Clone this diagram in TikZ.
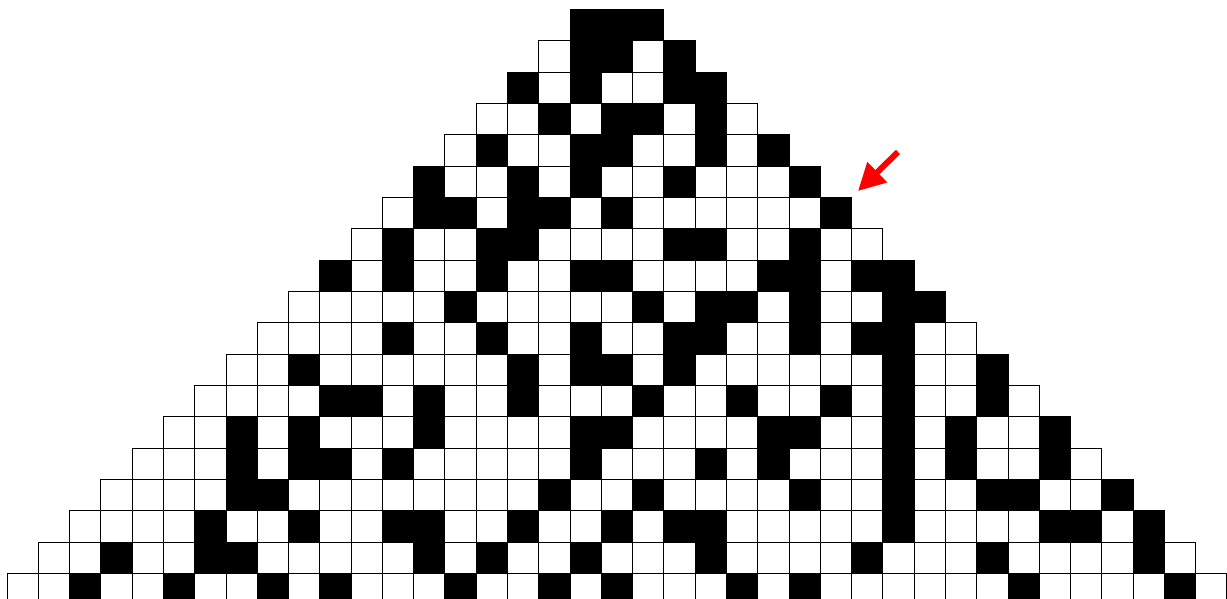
\documentclass[tikz,border=0pt]{standalone}
\usetikzlibrary{arrows.meta}
\begin{document}
\begin{tikzpicture}[x=1pt,y=-1pt,
  cellbox/.style={draw=black, line width=0.9pt},
  pointer/.style={draw=red, line width=6pt, -{Triangle[length=27pt,width=27pt]}}]
\clip (0,0) rectangle (1227,598);
\fill[white] (0,0) rectangle (1227,598);
\foreach \r/\bits in {
 0/{1,1,1},
 1/{0,1,1,0,1},
 2/{1,0,1,0,0,1,1},
 3/{0,0,1,0,1,1,0,1,0},
 4/{0,1,0,0,1,1,0,0,1,0,1},
 5/{1,0,0,1,0,1,0,0,1,0,0,0,1},
 6/{0,1,1,0,1,1,0,1,0,0,0,0,0,0,1},
 7/{0,1,0,0,1,1,0,0,0,0,1,1,0,0,1,0,0},
 8/{1,0,1,0,0,1,0,0,1,1,0,0,0,0,1,1,0,1,1},
 9/{0,0,0,0,0,1,0,0,0,0,0,1,0,1,1,0,1,0,0,1,1},
 10/{0,0,0,0,1,0,0,1,0,0,1,0,0,1,1,0,0,1,0,1,1,0,0},
 11/{0,0,1,0,0,0,0,0,0,1,0,1,1,0,1,0,0,0,0,0,0,1,0,0,1},
 12/{0,0,0,0,1,1,0,1,0,0,1,0,0,0,1,0,0,1,0,0,1,0,1,0,0,1,0},
 13/{0,0,1,0,1,0,0,0,1,0,0,0,0,1,1,0,0,0,0,1,1,0,0,1,0,1,0,0,1},
 14/{0,0,0,1,0,1,1,0,1,0,0,0,0,0,1,0,0,0,1,0,1,0,0,0,1,0,1,0,0,1,0},
 15/{0,0,0,0,1,1,0,0,0,0,0,0,0,0,1,0,0,1,0,0,0,0,1,0,0,1,0,0,1,1,0,0,1},
 16/{0,0,0,0,1,0,0,1,0,0,1,1,0,0,1,0,0,1,0,1,1,0,0,0,0,0,1,0,0,0,0,1,1,0,1},
 17/{0,0,1,0,0,1,1,0,0,0,0,0,1,0,1,0,0,1,0,0,0,1,0,0,0,0,1,0,0,0,1,0,0,0,0,1,0},
 18/{0,0,1,0,0,1,0,0,1,0,1,0,0,0,1,0,0,1,0,1,0,0,0,1,0,1,0,0,0,0,0,0,1,0,0,0,0,1,0}}{
  \foreach \b [count=\k from 0] in \bits {
    \pgfmathsetmacro\cx{7+31.28*(18-\r+\k)}
    \pgfmathsetmacro\cy{9.3+31.35*\r}
    \ifnum\b=1 \def\fc{black}\else\def\fc{white}\fi
    \path[cellbox, fill=\fc] (\cx,\cy) rectangle ++(31.28,31.35);
  }
}
\coordinate (arrowtail) at (898,152);
\coordinate (arrowtip) at (858,191);
\draw[pointer] (arrowtail) -- (arrowtip);
\end{tikzpicture}
\end{document}
